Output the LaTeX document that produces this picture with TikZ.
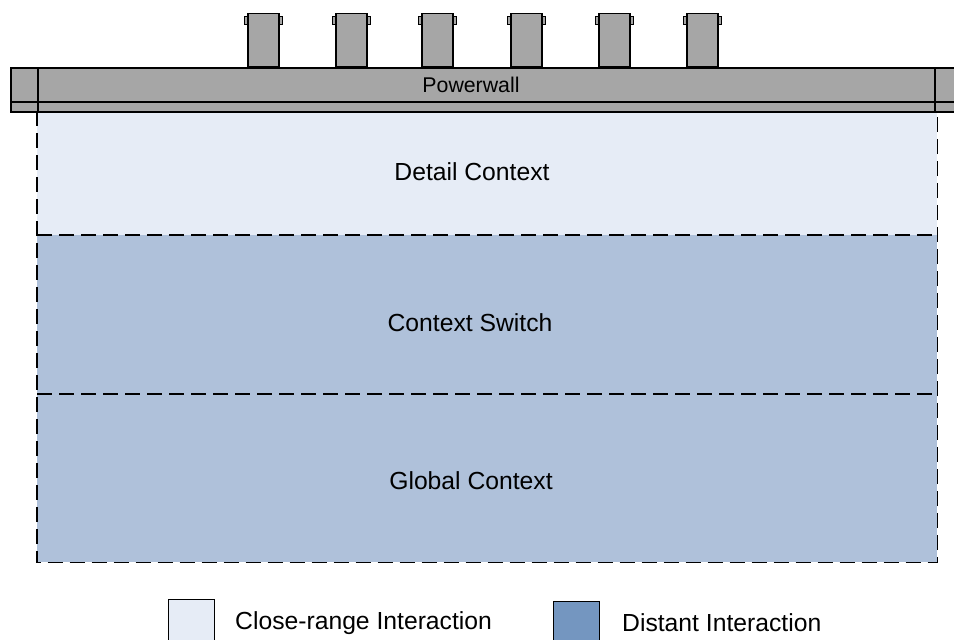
\documentclass[tikz,border=0pt]{standalone}
\usepackage{fontspec}
\setmainfont{Liberation Sans}
\usetikzlibrary{calc}
\definecolor{lightband}{HTML}{E6ECF6}
\definecolor{midband}{HTML}{AFC1DA}
\definecolor{darkkey}{HTML}{7496C0}
\definecolor{wallgray}{HTML}{A6A6A6}
\tikzset{
  band/.style={draw=none, anchor=north west, inner sep=0pt, minimum width=900pt},
  label/.style={font=\fontsize{24.7}{28}\selectfont, text=black, inner sep=0pt},
  dashline/.style={draw=black, line width=1.8pt, dash pattern=on 15pt off 7pt},
  wallline/.style={draw=black, line width=1.5pt},
  pillar/.style={fill=wallgray, draw=black, line width=1.5pt, anchor=south west, inner sep=0pt, minimum width=31pt, minimum height=53pt},
  tab/.style={fill=wallgray, draw=black, line width=1pt},
  keybox/.style={draw=black, line width=1.2pt, anchor=north west, inner sep=0pt, minimum width=46pt, minimum height=50pt},
}
\begin{document}
\begin{tikzpicture}[x=1pt,y=-1pt]
\useasboundingbox (0,0) rectangle (954,640);
% bands
\node[band, fill=lightband, minimum height=124pt] (detail) at (37,111) {};
\node[band, fill=midband, minimum height=159pt] (switch) at (37,235) {};
\node[band, fill=midband, minimum height=168pt] (global) at (37,394) {};
% dashed outline
\draw[dashline] (detail.north west) -- (global.south west) -- (global.south east) -- (detail.north east);
\draw[dashline] (switch.north west) -- (switch.north east);
\draw[dashline] (global.north west) -- (global.north east);
% labels
\node[label] (tdetail) at (472,172) {Detail Context};
\node[label] (tswitch) at (470,323) {Context Switch};
\node[label] (tglobal) at (471,481) {Global Context};
% pillars
\foreach \i/\px in {1/247,2/335,3/421,4/510,5/598,6/686}{
  \node[pillar] (p\i) at (\px,67) {};
  \draw[tab] ($(p\i.north west)+(-2.5,4)$) rectangle ($(p\i.north west)+(0,12)$);
  \draw[tab] ($(p\i.north east)+(0,4)$) rectangle ($(p\i.north east)+(2.5,12)$);
}
% powerwall bar
\node[fill=wallgray, draw=black, line width=1.5pt, anchor=north west, inner sep=0pt, minimum width=960pt, minimum height=44pt] (wall) at (10,67) {};
\draw[wallline] (10,102) -- (960,102);
\draw[wallline] (38,67) -- (38,111);
\draw[wallline] (935,67) -- (935,111);
\node[font=\fontsize{21.3}{24}\selectfont, inner sep=0pt] (twall) at (471,84.5) {Powerwall};
% legend
\node[keybox, fill=lightband] (k1) at (168,599) {};
\node[label, anchor=west] (k1t) at (235,623) {Close-range Interaction};
\node[keybox, fill=darkkey] (k2) at (553,601) {};
\node[label, anchor=west] (k2t) at (622,623) {Distant Interaction};
\end{tikzpicture}
\end{document}
